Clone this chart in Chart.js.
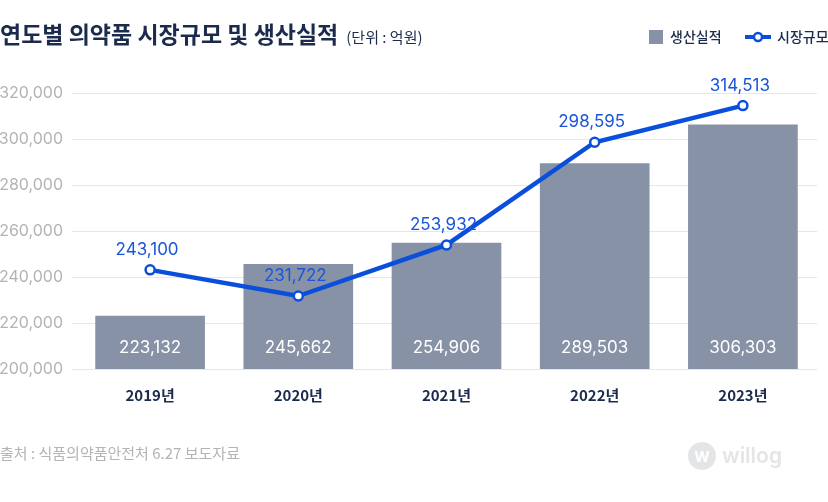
<!DOCTYPE html>
<html><head><meta charset="utf-8">
<script src="https://cdn.jsdelivr.net/npm/chart.js@4/dist/chart.umd.min.js"></script>
<style>
html,body{margin:0;padding:0;background:#fff;}
#wrap{position:relative;width:828px;height:502px;}
</style></head>
<body><div id="wrap"><canvas id="c" width="828" height="502"></canvas></div>
<script>
const categories = ['2019년','2020년','2021년','2022년','2023년'];
const production = [223132, 245662, 254906, 289503, 306303];
const marketSize = [243100, 231722, 253932, 298595, 314513];
const yTicks = [200000, 220000, 240000, 260000, 280000, 300000, 320000];

const FONT = "Inter, 'Noto Sans CJK KR', sans-serif";
const KFONT = "'Noto Sans CJK KR', Inter, sans-serif";
const fmt = v => v.toLocaleString('en-US');

const deco = {
  id: 'deco',
  afterDatasetsDraw(chart) {
    const ctx = chart.ctx;
    ctx.save();
    const barMeta = chart.getDatasetMeta(0);
    ctx.font = "400 17px " + FONT;
    ctx.fillStyle = '#ffffff';
    ctx.textAlign = 'center';
    ctx.textBaseline = 'middle';
    barMeta.data.forEach((el, i) => {
      ctx.fillText(fmt(production[i]), el.x, chart.chartArea.bottom - 21);
    });
    const lineMeta = chart.getDatasetMeta(1);
    ctx.fillStyle = '#1a56d9';
    lineMeta.data.forEach((el, i) => {
      ctx.fillText(fmt(marketSize[i]), el.x - 3, el.y - 20);
    });
    ctx.restore();
  },
  afterDraw(chart) {
    const ctx = chart.ctx;
    ctx.save();
    ctx.textBaseline = 'middle';
    ctx.textAlign = 'left';
    ctx.fillStyle = '#1b2b4b';
    ctx.font = "700 23px " + KFONT;
    const title = '연도별 의약품 시장규모 및 생산실적';
    ctx.fillText(title, 0, 34);
    const tw = ctx.measureText(title).width;
    ctx.font = "400 15px " + KFONT;
    ctx.fillText('(단위 : 억원)', tw + 8, 37);
    // legend
    ctx.fillStyle = '#8792a6';
    ctx.fillRect(649, 30, 14, 14);
    ctx.fillStyle = '#1b2b4b';
    ctx.font = "500 14px " + KFONT;
    ctx.fillText('생산실적', 670, 37);
    ctx.strokeStyle = '#0a4fdc';
    ctx.lineWidth = 4;
    ctx.beginPath(); ctx.moveTo(745, 37); ctx.lineTo(771, 37); ctx.stroke();
    ctx.beginPath(); ctx.arc(758, 37, 4, 0, Math.PI * 2);
    ctx.fillStyle = '#fff'; ctx.fill();
    ctx.lineWidth = 2.5; ctx.stroke();
    ctx.fillStyle = '#1b2b4b';
    ctx.fillText('시장규모', 777, 37);
    // source
    ctx.fillStyle = '#b4b4b4';
    ctx.font = "400 15px " + KFONT;
    ctx.fillText('출처 : 식품의약품안전처 6.27 보도자료', 0, 453);
    // watermark
    ctx.fillStyle = '#e4e5e7';
    ctx.beginPath(); ctx.arc(702, 456, 14, 0, Math.PI * 2); ctx.fill();
    ctx.fillStyle = '#ffffff';
    ctx.font = "700 15px " + FONT;
    ctx.textAlign = 'center';
    ctx.fillText('W', 702, 457);
    ctx.fillStyle = '#e4e5e7';
    ctx.font = "600 21px " + FONT;
    ctx.textAlign = 'left';
    ctx.fillText('willog', 722, 457);
    ctx.restore();
  }
};

new Chart(document.getElementById('c'), {
  data: {
    labels: categories,
    datasets: [
      {
        type: 'bar', label: '생산실적', data: production,
        backgroundColor: '#8792a6', barPercentage: 0.74, categoryPercentage: 1.0,
        order: 2
      },
      {
        type: 'line', label: '시장규모', data: marketSize,
        borderColor: '#0a4fdc', borderWidth: 4.5, tension: 0,
        pointRadius: 4.5, pointBackgroundColor: '#ffffff', pointBorderColor: '#0a4fdc',
        pointBorderWidth: 2.5, order: 1
      }
    ]
  },
  options: {
    responsive: false, animation: false,
    layout: { padding: { top: 93, right: 11, bottom: 0, left: 0 } },
    plugins: { legend: { display: false }, tooltip: { enabled: false } },
    scales: {
      x: {
        grid: { display: false, drawTicks: false },
        border: { display: false },
        ticks: { color: '#1b2b4b', font: { family: KFONT, size: 15, weight: '600' }, padding: 17 },
        afterFit(s) { s.height = 133; }
      },
      y: {
        min: 200000, max: 320000,
        afterBuildTicks(s) { s.ticks = yTicks.map(v => ({ value: v })); },
        grid: { color: '#e6e6e6', lineWidth: 1, drawTicks: true, tickLength: 4 },
        border: { display: false },
        ticks: { color: '#b3b3b3', font: { family: FONT, size: 16 }, padding: 9, callback: v => fmt(v) },
        afterFit(s) { s.width = 76; }
      }
    }
  },
  plugins: [deco]
});
</script></body></html>
